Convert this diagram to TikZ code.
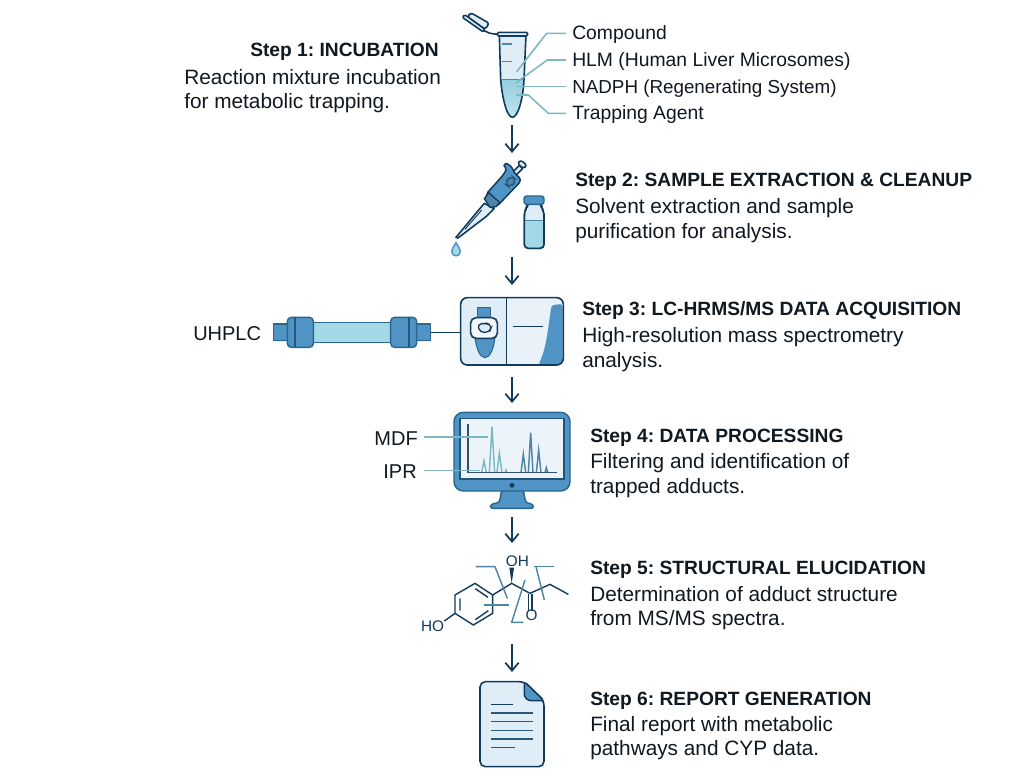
\documentclass[tikz,border=0pt]{standalone}
\usepackage{fontspec}
\setmainfont{Liberation Sans}
\usetikzlibrary{arrows.meta}
\definecolor{navy}{HTML}{123A5C}
\definecolor{midblue}{HTML}{4F94C4}
\definecolor{pale}{HTML}{DFEDF6}
\definecolor{liquid}{HTML}{A3D8E6}
\definecolor{leader}{HTML}{7DB8C6}
\definecolor{ink}{HTML}{101820}
\definecolor{steel}{HTML}{4E86A8}
\definecolor{edge}{HTML}{2B6690}
\tikzset{
  zoomed/.style={x=0.25pt,y=-0.25pt},
  slot/.style={minimum width=40pt,inner sep=0pt,outer sep=0pt},
  flow/.style={navy,line width=1.3pt,-{Straight Barb[length=6pt,width=10pt,line width=1.3pt]}},
  head/.style={anchor=base west,inner sep=0pt,font=\fontsize{14.4pt}{16pt}\selectfont\bfseries,text=ink},
  desc/.style={anchor=base west,inner sep=0pt,font=\fontsize{15.6pt}{16pt}\selectfont,text=ink},
  tag/.style={anchor=base west,inner sep=0pt,font=\fontsize{14.5pt}{16pt}\selectfont,text=ink},
  biglabel/.style={inner sep=0pt,font=\fontsize{15pt}{16pt}\selectfont,text=ink},
  lead/.style={leader,line width=1.2pt},
  outline/.style={draw=navy,line width=1.2pt,line join=round},
  blue/.style={draw=edge,fill=midblue,line width=1.1pt,line join=round},
  overlay/.style={steel,line width=1.1pt},
  bond/.style={navy,line width=1.05pt},
  mol/.style={inner sep=0pt,font=\fontsize{11.5pt}{12pt}\selectfont,text=navy}
}
\begin{document}
\frenchspacing
\begin{tikzpicture}[x=0.75pt,y=-0.75pt]
\useasboundingbox (0,0) rectangle (1024,775);
\fill[white] (0,0) rectangle (1024,775);
% invisible slots, connectors run between them
\node[slot,minimum height=115*0.75pt] (tube) at (512,67.5) {};
\node[slot,minimum height=104*0.75pt] (pip) at (512,205) {};
\node[slot,minimum height=92*0.75pt] (lc) at (512,331) {};
\node[slot,minimum height=114*0.75pt] (mon) at (512,460) {};
\node[slot,minimum height=101*0.75pt] (molec) at (512,593.5) {};
\node[slot,minimum height=92*0.75pt] (rep) at (512,718) {};
\draw[flow] (tube.south) -- (pip.north);
\draw[flow] (pip.south) -- (lc.north);
\draw[flow] (lc.south) -- (mon.north);
\draw[flow] (mon.south) -- (molec.north);
\draw[flow] (molec.south) -- (rep.north);
% tube
\begin{scope}[shift={(440,0)},zoomed]
\path[fill=pale] (178,105) -- (258,105) -- (252,238) -- (182,238) -- cycle;
\path[top color=liquid!85!midblue,bottom color=liquid!70!white] (182,238) -- (252,238) .. controls (250,290) and (235,352) .. (217,352) .. controls (200,352) and (186,290) .. (182,238) -- cycle;
\draw[outline] (178,105) -- (182,238) .. controls (186,290) and (200,352) .. (217,352) .. controls (235,352) and (250,290) .. (252,238) -- (258,105);
\draw[steel,line width=0.9pt] (182,238) -- (252,238);
\draw[outline,fill=pale,rounded corners=1pt] (172,97) rectangle (263,108);
\draw[outline,fill=pale,rounded corners=2pt] (82,50) -- (92,38) -- (148,70) -- (135,88) -- cycle;
\draw[outline,fill=pale,rounded corners=1pt] (67,52) -- (74,44) -- (135,88) -- (130,96) -- cycle;
\draw[outline] (132,92) -- (150,100) -- (172,103);
\draw[steel,line width=0.9pt] (185,132) -- (215,132) (185,185) -- (215,185);
\draw[lead] (230,215) -- (320,100) -- (378,100);
\draw[lead] (228,248) -- (322,180) -- (378,180);
\draw[lead] (228,260) -- (378,260);
\draw[lead] (228,285) -- (265,285) -- (325,340) -- (378,340);
\end{scope}
\node[tag] (t1a) at (572,39) {Compound};
\node[tag] (t1b) at (572,66) {HLM (Human Liver Microsomes)};
\node[tag,font=\fontsize{14.1pt}{16pt}\selectfont] (t1c) at (572,93) {NADPH (Regenerating System)};
\node[tag] (t1d) at (572,119) {Trapping Agent};
% pipette and vial
\begin{scope}[shift={(430,150)},zoomed]
\draw[outline,fill=pale] (163,160) -- (192,176) -- (168,200) -- (84,264) -- (78,262) -- (146,180) -- cycle;
\draw[navy,line width=0.7pt] (155,180) -- (105,238);
\draw[outline,fill=pale] (248,66) -- (268,46) -- (278,56) -- (258,76) -- cycle;
\draw[outline,fill=pale,rounded corners=2pt] (262,40) -- (272,30) -- (291,46) -- (281,56) -- cycle;
\draw[blue,draw=navy,rounded corners=3pt] (166,135) -- (224,70) .. controls (228,60) and (225,52) .. (216,46) .. controls (232,38) and (246,52) .. (250,66) -- (276,90) -- (200,170) -- (180,172) -- cycle;
\draw[draw=navy,line width=1pt,fill=steel] (176,128) -- (163,146) -- (180,172) -- (198,170) -- (210,158) -- cycle;
\draw[draw=navy!70!steel,line width=0.8pt,fill=steel,rounded corners=4pt] (223,100) -- (243,76) -- (260,90) -- (240,114) -- cycle;
\draw[draw=midblue,fill=liquid,line width=1.1pt] (78,278) .. controls (72,290) and (65,295) .. (65,304) .. controls (65,322) and (91,322) .. (91,304) .. controls (91,295) and (84,290) .. (78,278) -- cycle;
% vial
\draw[outline,fill=pale,rounded corners=3pt] (291,160) -- (291,172) -- (283,185) -- (283,295) -- (342,295) -- (342,185) -- (334,172) -- (334,160) -- cycle;
\fill[liquid,rounded corners=2pt] (285,212) rectangle (340,293);
\draw[steel,line width=0.8pt] (285,212) -- (340,212);
\draw[outline,rounded corners=3pt] (283,190) -- (283,295) -- (342,295) -- (342,190);
\draw[blue,rounded corners=2pt] (282,138) rectangle (342,163);
\end{scope}
% column and instrument
\begin{scope}[shift={(180,285)},zoomed]
\draw[draw=edge,line width=1.1pt,fill=liquid] (400,112) rectangle (632,172);
\draw[blue] (280,117) rectangle (322,167);
\draw[blue] (710,117) rectangle (752,167);
\draw[blue,rounded corners=3pt] (322,97) rectangle (400,187);
\draw[blue,rounded corners=3pt] (632,97) rectangle (710,187);
\draw[edge!70!navy,line width=0.9pt] (345,97) -- (345,187) (687,97) -- (687,187);
\draw[navy,line width=1.1pt] (752,143) -- (842,143);
\draw[fill=pale!70!white,draw=none,rounded corners=5pt] (842,38) rectangle (1150,240);
\path[fill=pale] (842,44) rectangle (980,234);
\path[fill=midblue,rounded corners=2pt] (1075,238) .. controls (1100,190) and (1105,120) .. (1115,60) -- (1148,57) -- (1148,238) -- cycle;
\draw[outline,rounded corners=5pt] (842,38) rectangle (1150,240);
\draw[navy,line width=1.1pt] (980,38) -- (980,240);
\draw[navy,line width=1pt] (1000,125) -- (1090,125);
\draw[blue,line width=0.8pt] (893,68) rectangle (932,100);
\draw[blue,line width=0.8pt] (885,155) .. controls (888,190) and (900,218) .. (915,218) .. controls (930,218) and (942,190) .. (945,155) -- cycle;
\draw[outline,fill=white!60!pale,rounded corners=4pt] (872,98) rectangle (952,160);
\draw[navy,line width=1pt,fill=pale,rounded corners=3pt] (892,118) -- (918,114) -- (936,122) -- (928,142) -- (900,142) -- cycle;
\end{scope}
\node[biglabel,anchor=base west] (uh) at (193,340) {UHPLC};
% monitor
\begin{scope}[shift={(360,400)},zoomed]
\draw[blue,rounded corners=2pt] (425,270) -- (490,270) -- (497,308) -- (518,312) -- (522,325) -- (390,325) -- (393,312) -- (418,308) -- cycle;
\draw[blue,rounded corners=7pt] (282,37) rectangle (630,273);
\draw[edge!60!navy,line width=0.9pt,fill=pale!60!white] (300,55) rectangle (612,237);
\fill[navy] (456,256) circle (7);
\draw[steel,line width=1.1pt] (483,218) -- (490,162) -- (497,218) (505,218) -- (512,98) -- (519,218) (529,218) -- (536,150) -- (543,218) (555,218) -- (559,203) -- (563,218);
\draw[leader,line width=1.1pt] (365,218) -- (372,182) -- (379,218) (388,218) -- (396,80) -- (404,218) (411,218) -- (418,160) -- (426,218) (435,218) -- (438,210) -- (441,218);
\draw[navy!70!gray,line width=1.1pt] (324,72) -- (324,218) -- (590,218);
\draw[lead] (192,111) -- (385,111);
\draw[lead] (192,211) -- (360,211);
\end{scope}
\node[biglabel,anchor=base east] (mdf) at (418,445) {MDF};
\node[biglabel,anchor=base east] (ipr) at (417,478) {IPR};
% molecule
\begin{scope}[shift={(410,545)},zoomed]
\draw[bond] (135,150) -- (195,115) -- (248,150) -- (248,205) -- (190,240) -- (135,205) -- cycle;
\draw[bond] (150,160) -- (150,197) (196,131) -- (234,157) (235,197) -- (196,224);
\draw[bond] (135,205) -- (103,228);
\draw[bond] (248,150) -- (305,115) -- (360,145) -- (420,118) -- (475,148);
\draw[bond] (355,148) -- (355,198) (366,148) -- (366,198);
\fill[navy] (305,115) -- (298,68) -- (312,68) -- cycle;
\draw[overlay] (197,65) -- (255,65) -- (292,160);
\draw[overlay] (222,180) -- (298,180);
\draw[overlay] (345,105) -- (305,232) -- (340,232);
\draw[overlay] (372,65) -- (432,65);
\draw[overlay] (378,65) -- (403,165);
\node[mol] (oh) at (322,50) {OH};
\node[mol] (ho) at (68,243) {HO};
\node[mol] (oo) at (365,212) {O};
\end{scope}
% document
\begin{scope}[shift={(465,670)},zoomed]
\draw[outline,fill=pale,rounded corners=4pt] (178,35) -- (45,35) -- (45,290) -- (237,290) -- (237,92) -- cycle;
\draw[blue,draw=navy,rounded corners=2pt] (178,35) -- (237,92) -- (190,92) -- (178,80) -- cycle;
\draw[navy,line width=1.2pt] (78,103) -- (145,103);
\draw[steel!40!navy,line width=1.2pt] (78,129) -- (205,129) (78,155) -- (205,155) (78,181) -- (205,181) (78,207) -- (205,207) (78,233) -- (150,233);
\end{scope}
% step texts
\node[head] (s1) at (250,56) {Step 1: INCUBATION};
\node[desc] (s1a) at (184,84) {Reaction mixture incubation};
\node[desc] (s1b) at (184,108) {for metabolic trapping.};
\node[head] (s2) at (575,186) {Step 2: SAMPLE EXTRACTION \& CLEANUP};
\node[desc] (s2a) at (575,213) {Solvent extraction and sample};
\node[desc] (s2b) at (575,238) {purification for analysis.};
\node[head] (s3) at (582,315) {Step 3: LC-HRMS/MS DATA ACQUISITION};
\node[desc] (s3a) at (582,342) {High-resolution mass spectrometry};
\node[desc] (s3b) at (582,367) {analysis.};
\node[head] (s4) at (590,442) {Step 4: DATA PROCESSING};
\node[desc] (s4a) at (590,468) {Filtering and identification of};
\node[desc] (s4b) at (590,493) {trapped adducts.};
\node[head] (s5) at (590,574) {Step 5: STRUCTURAL ELUCIDATION};
\node[desc] (s5a) at (590,601) {Determination of adduct structure};
\node[desc] (s5b) at (590,625) {from MS/MS spectra.};
\node[head] (s6) at (590,705) {Step 6: REPORT GENERATION};
\node[desc] (s6a) at (590,731) {Final report with metabolic};
\node[desc] (s6b) at (590,755) {pathways and CYP data.};
\end{tikzpicture}
\end{document}
